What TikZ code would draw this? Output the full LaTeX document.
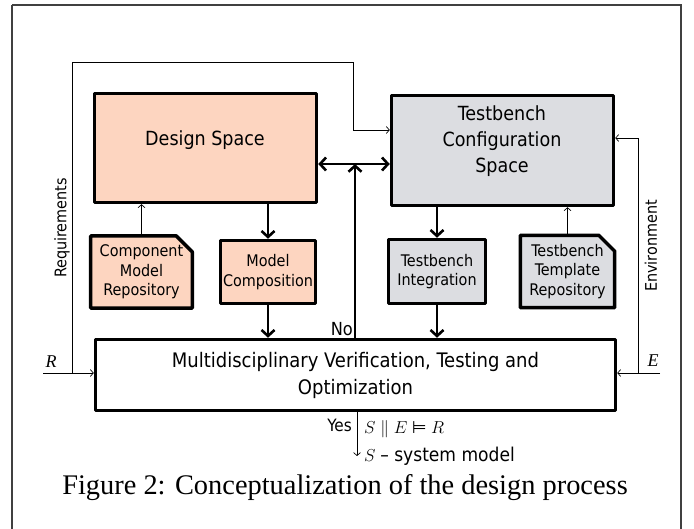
\documentclass[tikz,border=0pt]{standalone}
\usepackage{fontspec}
\setmainfont{Liberation Serif}
\newfontfamily\boxfont{DejaVu Sans Condensed}
\newfontfamily\symfont{DejaVu Sans}
\usetikzlibrary{arrows.meta,shapes.misc}
\definecolor{peach}{RGB}{253,213,192}
\definecolor{lightgrey}{RGB}{220,221,225}
\tikzset{
  block/.style={draw=black,line width=3.5pt,line join=round,align=center,
    font=\boxfont,inner sep=1pt},
  repo/.style={block,chamfered rectangle,chamfered rectangle corners=north east,
    chamfered rectangle xsep=8pt,chamfered rectangle ysep=8pt},
  smalltext/.style={font=\boxfont\fontsize{16}{19.5}\selectfont},
  bigtext/.style={font=\boxfont\fontsize{19.5}{26}\selectfont,align=center,inner sep=0pt},
  flow/.style={line width=2.6pt,-{Straight Barb[length=6pt,width=13pt,line width=2.6pt]}},
  bothflow/.style={line width=2.6pt,{Straight Barb[length=6pt,width=13pt,line width=2.6pt]}-{Straight Barb[length=6pt,width=13pt,line width=2.6pt]}},
  link/.style={line width=0.7pt,-{Straight Barb[length=3pt,width=7pt]}},
  plain/.style={line width=0.7pt},
  sidelabel/.style={font=\boxfont\fontsize{16}{18}\selectfont,rotate=90},
  varlabel/.style={font=\itshape\fontsize{18}{20}\selectfont}
}
\begin{document}
\begin{tikzpicture}[x=1pt,y=-1pt]
\useasboundingbox (0,0) rectangle (694,529);
% outer frame
\draw[line width=1.4pt,black!75] (12,5) -- (681,5) -- (681,560) (12,5) -- (12,560);

% main blocks
\node[block,fill=peach,minimum width=222pt,minimum height=109pt] (ds) at (205.5,148) {};
\node[bigtext] (dstext) at (205,140) {Design Space};
\node[block,fill=lightgrey,minimum width=222pt,minimum height=110pt] (tb) at (502.5,150.5) {};
\node[bigtext] (tbtext) at (502,141.5) {Testbench\\Configuration\\Space};

\node[repo,fill=peach,minimum width=92pt,minimum height=63pt,smalltext] (cmr) at (141.5,272) {Component\\Model\\Repository};
\node[block,fill=peach,minimum width=95pt,minimum height=63pt,smalltext] (mc) at (268,272) {Model\\Composition};
\node[block,fill=lightgrey,minimum width=97pt,minimum height=64pt,smalltext] (ti) at (437,271.5) {Testbench\\Integration};
\node[repo,fill=lightgrey,minimum width=92pt,minimum height=64pt,smalltext] (ttr) at (567.5,271.5) {Testbench\\Template\\Repository};

\node[block,fill=white,minimum width=520pt,minimum height=71pt,
  font=\boxfont\fontsize{20}{27}\selectfont] (mv) at (355.5,375)
  {Multidisciplinary Verification, Testing and\\Optimization};

% design flow
\draw[flow] (mc.north |- ds.south) -- (mc.north);
\draw[flow] (mc.south) -- (mc.south |- mv.north);
\draw[flow] (ti.north |- tb.south) -- (ti.north);
\draw[flow] (ti.south) -- (ti.south |- mv.north);
\draw[link] (cmr.north) -- (cmr.north |- ds.south);
\draw[link] (ttr.north) -- (ttr.north |- tb.south);

% iteration loop
\coordinate (nj) at (355,164);
\draw[flow] (mv.north -| nj) -- (nj);
\draw[bothflow] (ds.east |- nj) -- (tb.west |- nj);
\node[font=\boxfont\fontsize{18}{20}\selectfont,anchor=south east,inner sep=2pt] (no) at (mv.north -| nj) {No};

% requirements
\coordinate (rin) at (43,373);
\coordinate (rj) at (72,373);
\coordinate (rtop) at (72,62);
\coordinate (rbend) at (353,62);
\coordinate (rlow) at (353,130);
\draw[link] (rin) -- (mv.west |- rin);
\draw[plain] (rj) -- (rtop) -- (rbend) -- (rlow);
\draw[link] (rlow) -- (tb.west |- rlow);
\node[varlabel] (rlab) at (51,362) {R};
\node[sidelabel] (reqlab) at (62,228) {Requirements};

% environment
\coordinate (ein) at (660,373);
\coordinate (ej) at (638,373);
\coordinate (etop) at (638,138);
\draw[link] (ein) -- (mv.east |- ein);
\draw[plain] (ej) -- (etop);
\draw[link] (etop) -- (tb.east |- etop);
\node[varlabel] (elab) at (653,361) {E};
\node[sidelabel] (envlab) at (651,246) {Environment};

% exit
\coordinate (yend) at (357,456);
\draw[link] (mv.south -| yend) -- (yend);
\node[font=\boxfont\fontsize{17}{18}\selectfont,anchor=east,inner sep=2pt] (yes) at (354,425) {Yes};
\node[anchor=base west,inner sep=0pt,font=\fontsize{18}{20}\selectfont] (sat) at (364,434)
  {$S \parallel E$ {\symfont\fontsize{17}{20}\selectfont ⊨} $R$};
\node[anchor=west,inner sep=0pt,font=\fontsize{19}{21}\selectfont] (sysm) at (364,456)
  {$S$ {\boxfont – system model}};

% caption
\node[font=\fontsize{28.4}{30}\selectfont] (cap) at (345,488) {Figure 2: Conceptualization of the design process};
\end{tikzpicture}
\end{document}
